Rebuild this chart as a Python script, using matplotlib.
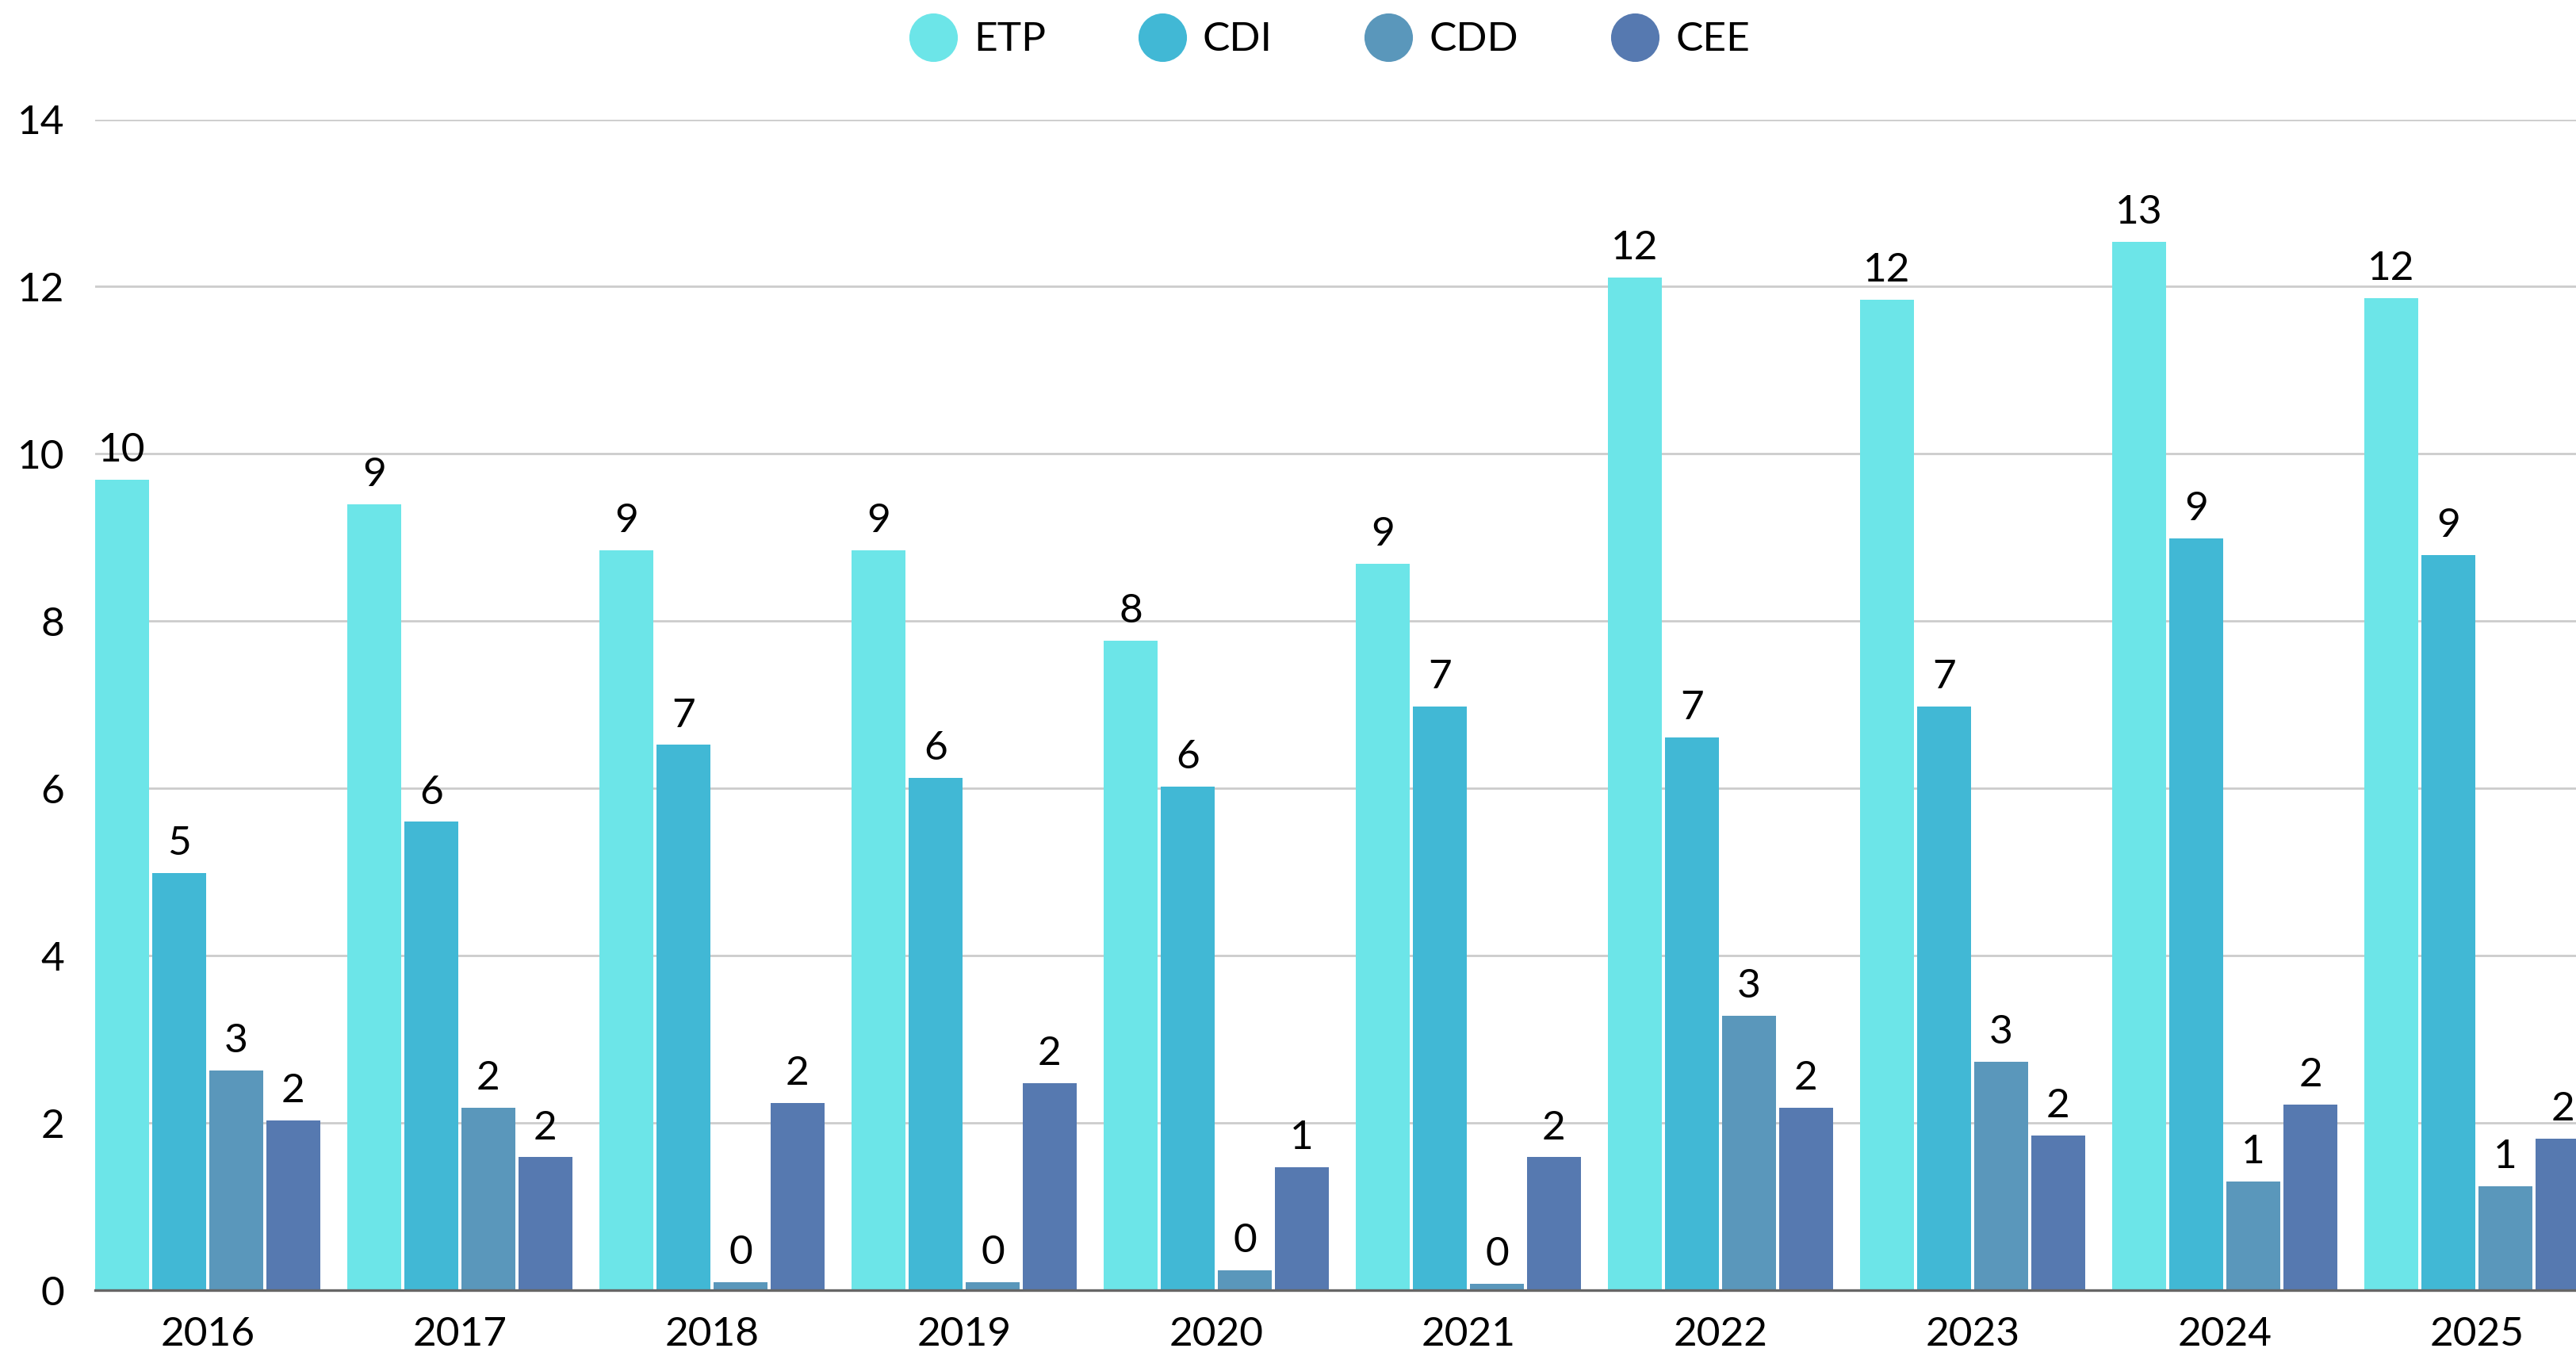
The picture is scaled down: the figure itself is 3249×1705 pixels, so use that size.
import numpy as np
import matplotlib
matplotlib.use("Agg")
import matplotlib.pyplot as plt

years = ["2016", "2017", "2018", "2019", "2020", "2021", "2022", "2023", "2024", "2025"]
series = ["ETP", "CDI", "CDD", "CEE"]
etp = [9.69, 9.40, 8.85, 8.85, 7.77, 8.69, 12.11, 11.84, 12.54, 11.86]
cdi = [4.99, 5.60, 6.52, 6.13, 6.02, 6.98, 6.61, 6.98, 8.99, 8.79]
cdd = [2.63, 2.18, 0.10, 0.10, 0.24, 0.08, 3.28, 2.73, 1.30, 1.24]
cee = [2.03, 1.59, 2.24, 2.48, 1.47, 1.59, 2.18, 1.85, 2.22, 1.81]
colors = ["#6ce5e8", "#41b8d5", "#5a97bb", "#5679b0"]

plt.rcParams["font.family"] = ["Lato", "DejaVu Sans"]
fs = 18.5

fig = plt.figure(figsize=(16.245, 8.525), dpi=200)
ax = fig.add_axes([0.0369, 0.0457, 0.9631, 0.866])

x = np.arange(len(years))
step = 72 / 318
width = 68 / 318
for k, (name, vals) in enumerate(zip(series, [etp, cdi, cdd, cee])):
    off = (k - 1.5) * step
    bars = ax.bar(x + off, vals, width, color=colors[k], label=name, zorder=3)
    ax.bar_label(bars, labels=[str(int(round(v))) for v in vals], padding=5,
                 fontsize=fs, color="black")

ax.set_ylim(0, 14)
ax.set_xlim(-0.4465, 9.393)
ax.set_yticks(np.arange(0, 15, 2))
ax.set_xticks(x)
ax.set_xticklabels(years)
ax.tick_params(axis="both", length=0, labelsize=fs)
ax.tick_params(axis="y", pad=14)
ax.tick_params(axis="x", pad=12)
ax.grid(axis="y", color="#cccccc", linewidth=1.0, zorder=0)
for s in ["left", "right", "top"]:
    ax.spines[s].set_visible(False)
ax.spines["bottom"].set_color("#666666")
ax.spines["bottom"].set_linewidth(1.2)
ax.spines["bottom"].set_zorder(4)

handles = [plt.Line2D([], [], marker="o", linestyle="", markersize=21,
                      markerfacecolor=c, markeredgecolor=c) for c in colors]
fig.legend(handles, series, loc="upper center", bbox_to_anchor=(0.516, 1.011),
           ncol=4, frameon=False, fontsize=fs, handletextpad=0.4,
           columnspacing=2.25, handlelength=1.2)

fig.savefig("out.png", dpi=200)
